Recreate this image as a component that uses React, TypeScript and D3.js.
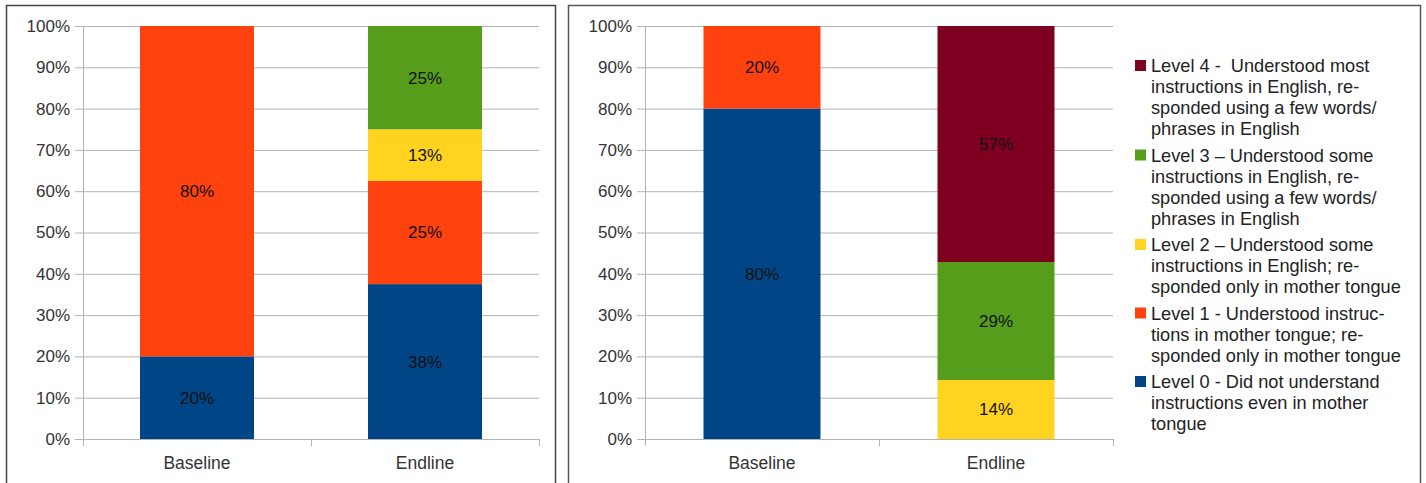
import React from "react";
import * as d3 from "d3";

const categories = ["Baseline", "Endline"];
const levels = ["Level 0", "Level 1", "Level 2", "Level 3", "Level 4"];
const colors = ["#004586", "#ff420e", "#ffd320", "#579d1c", "#7e0021"];

// Left chart values (percent), per level, [Baseline, Endline]
const leftLevel0 = [20, 37.5];
const leftLevel1 = [80, 25];
const leftLevel2 = [0, 12.5];
const leftLevel3 = [0, 25];
const leftLevel4 = [0, 0];

// Right chart values (percent)
const rightLevel0 = [80, 0];
const rightLevel1 = [20, 0];
const rightLevel2 = [0, 14.29];
const rightLevel3 = [0, 28.57];
const rightLevel4 = [0, 57.14];

const yTicks = [0, 10, 20, 30, 40, 50, 60, 70, 80, 90, 100];

const legendLines = [
  ["Level 4 -  Understood most", "instructions in English, re-", "sponded using a few words/", "phrases in English"],
  ["Level 3 \u2013 Understood some", "instructions in English, re-", "sponded using a few words/", "phrases in English"],
  ["Level 2 \u2013 Understood some", "instructions in English; re-", "sponded only in mother tongue"],
  ["Level 1 - Understood instruc-", "tions in mother tongue; re-", "sponded only in mother tongue"],
  ["Level 0 - Did not understand", "instructions even in mother", "tongue"],
];
const legendColorIdx = [4, 3, 2, 1, 0];

const FONT = "'Liberation Sans', Arial, sans-serif";

type ChartProps = { x0: number; x1: number; series: number[][] };

function StackChart({ x0, x1, series }: ChartProps) {
  const y = d3.scaleLinear().domain([0, 100]).range([439, 26]);
  const x = d3.scaleBand().domain(categories).range([x0, x1]).paddingInner(0.5).paddingOuter(0.25);
  const table = categories.map((c, i) => {
    const row: any = { cat: c };
    levels.forEach((l, j) => (row[l] = series[j][i]));
    return row;
  });
  const stacked = d3.stack().keys(levels)(table);
  const band = (x1 - x0) / categories.length;
  return (
    <g>
      {yTicks.map((t) => (
        <g key={t}>
          <line x1={x0 - 8} x2={x1} y1={y(t) + 0.5} y2={y(t) + 0.5} stroke="#b3b3b3" strokeWidth={1} />
          <text x={x0 - 13} y={y(t)} dy="0.35em" textAnchor="end" fontSize={17} fill="#333" fontFamily={FONT}>
            {t}%
          </text>
        </g>
      ))}
      <line x1={x0 + 0.5} x2={x0 + 0.5} y1={y(100)} y2={y(0) + 7} stroke="#b3b3b3" />
      {d3.range(categories.length + 1).map((i) => (
        <line key={i} x1={x0 + band * i + 0.5} x2={x0 + band * i + 0.5} y1={y(0)} y2={y(0) + 7} stroke="#b3b3b3" />
      ))}
      {stacked.map((s, j) =>
        s.map((d, i) => {
          const v = d[1] - d[0];
          if (v <= 0) return null;
          const bx = x(categories[i])!;
          return (
            <g key={`${j}-${i}`}>
              <rect x={bx} width={x.bandwidth()} y={y(d[1])} height={y(d[0]) - y(d[1])} fill={colors[j]} />
              <text
                x={bx + x.bandwidth() / 2}
                y={(y(d[0]) + y(d[1])) / 2}
                dy="0.35em"
                textAnchor="middle"
                fontSize={17}
                fill="#111"
                fontFamily={FONT}
              >
                {Math.round(v)}%
              </text>
            </g>
          );
        })
      )}
      {categories.map((c) => (
        <text key={c} x={x(c)! + x.bandwidth() / 2} y={469} textAnchor="middle" fontSize={17.5} fill="#333" fontFamily={FONT}>
          {c}
        </text>
      ))}
    </g>
  );
}

export default function App() {
  const leftSeries = [leftLevel0, leftLevel1, leftLevel2, leftLevel3, leftLevel4];
  const rightSeries = [rightLevel0, rightLevel1, rightLevel2, rightLevel3, rightLevel4];
  let ly = 66;
  const legendItems = legendLines.map((lines, k) => {
    const startY = ly;
    ly += lines.length * 21 + 5.5;
    return { lines, startY, color: colors[legendColorIdx[k]] };
  });
  return (
    <svg width={1426} height={483} style={{ position: "absolute", left: 0, top: 0, background: "#fff" }}>
      <rect x={0} y={0} width={1426} height={483} fill="#fff" />
      <rect x={6.5} y={5.5} width={549} height={500} fill="none" stroke="#444" strokeWidth={1.5} />
      <rect x={568.5} y={5.5} width={852} height={500} fill="none" stroke="#555" strokeWidth={1.5} />
      <StackChart x0={83} x1={539} series={leftSeries} />
      <StackChart x0={645} x1={1113} series={rightSeries} />
      {legendItems.map((it, k) => (
        <g key={k}>
          <rect x={1135} y={it.startY - 6} width={11} height={11} fill={it.color} />
          {it.lines.map((ln, i) => (
            <text
              key={i}
              x={1151}
              y={it.startY + i * 21}
              dy="0.35em"
              fontSize={18.2}
              fill="#222"
              fontFamily={FONT}
              style={{ whiteSpace: "pre" }}
            >
              {ln}
            </text>
          ))}
        </g>
      ))}
    </svg>
  );
}
